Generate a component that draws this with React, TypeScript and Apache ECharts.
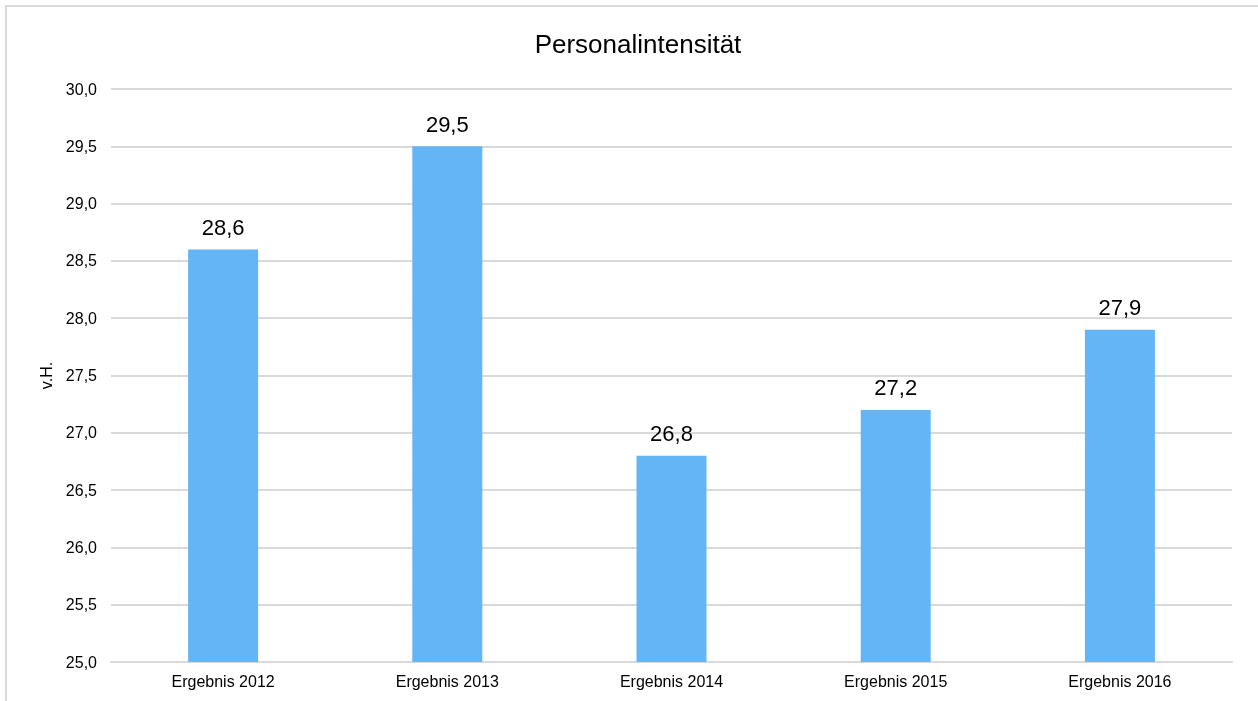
import React, { useEffect, useRef } from "react";
import * as echarts from "echarts";

const categories = ["Ergebnis 2012", "Ergebnis 2013", "Ergebnis 2014", "Ergebnis 2015", "Ergebnis 2016"];
const values = [28.6, 29.5, 26.8, 27.2, 27.9];
const titleText = "Personalintensität";
const yAxisName = "v.H.";

const fmt = (v: number) => v.toFixed(1).replace(".", ",");
const FF = "Liberation Sans, Arial, sans-serif";

export default function App() {
  const ref = useRef<HTMLDivElement>(null);
  useEffect(() => {
    if (!ref.current) return;
    const chart = echarts.init(ref.current, null, { renderer: "svg" });
    chart.setOption({
      animation: false,
      textStyle: { fontFamily: FF },
      title: {
        text: titleText,
        left: 633,
        textAlign: "center",
        top: 26,
        textStyle: { fontSize: 26, fontWeight: "normal", color: "#000", fontFamily: FF },
      },
      graphic: [
        {
          type: "rect",
          shape: { x: 6, y: 6, width: 1400, height: 900 },
          style: { fill: "none", stroke: "#d9d9d9", lineWidth: 2 },
          silent: true,
        },
      ],
      grid: { left: 111, right: 26, top: 89, bottom: 39, containLabel: false },
      xAxis: {
        type: "category",
        data: categories,
        axisTick: { show: false },
        axisLine: { lineStyle: { color: "#d9d9d9", width: 2 } },
        axisLabel: { color: "#000", fontSize: 16, margin: 11, fontFamily: FF },
      },
      yAxis: {
        type: "value",
        min: 25,
        max: 30,
        interval: 0.5,
        name: yAxisName,
        nameLocation: "middle",
        nameRotate: 90,
        nameGap: 51,
        nameTextStyle: { color: "#000", fontSize: 16, fontFamily: FF },
        axisLine: { show: false },
        axisTick: { show: false },
        axisLabel: { color: "#000", fontSize: 16, margin: 14, formatter: (v: number) => fmt(v), fontFamily: FF },
        splitLine: { lineStyle: { color: "#d9d9d9", width: 2 } },
      },
      series: [
        {
          type: "bar",
          data: values,
          barWidth: 70,
          itemStyle: { color: "#64b5f6" },
          label: {
            show: true,
            position: "top",
            distance: 11,
            color: "#000",
            fontSize: 22,
            fontFamily: FF,
            formatter: (p: any) => fmt(p.value),
          },
        },
      ],
    });
    return () => chart.dispose();
  }, []);
  return <div ref={ref} style={{ position: "fixed", left: 0, top: 0, width: 1258, height: 701 }} />;
}
